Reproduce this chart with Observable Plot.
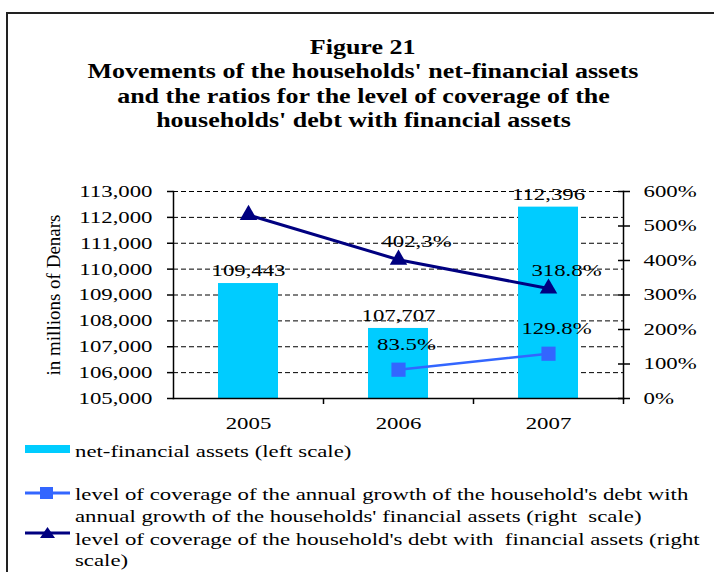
<!DOCTYPE html>
<html><head><meta charset="utf-8">
<script src="https://cdn.jsdelivr.net/npm/d3@7"></script>
<script src="https://cdn.jsdelivr.net/npm/@observablehq/plot@0.6"></script>
<style>
body{margin:0;background:#fff;}
#page{position:relative;width:714px;height:572px;overflow:hidden;background:#fff;font-family:"Liberation Serif","Times New Roman",serif;color:#000;}
#border{position:absolute;left:6px;top:12px;width:800px;height:700px;border:2px solid #222;}
#title{position:absolute;left:7px;width:712px;top:35px;text-align:center;font-weight:bold;font-size:20px;line-height:24.3px;}
#title div span{display:inline-block;transform:scaleX(1.3);transform-origin:center;white-space:nowrap;}
#chart{position:absolute;left:0;top:170px;}
#legend{position:absolute;left:0;top:430px;}
</style></head>
<body>
<div id="page">
  <div id="border"></div>
  <div id="title"></div>
  <div id="chart"></div>
  <div id="legend"></div>
</div>
<script>
// ---- data ----
const titleLines = [
  "Figure 21",
  "Movements of the households' net-financial assets",
  "and the ratios for the level of coverage of the",
  "households' debt with financial assets"
];
const years = ["2005", "2006", "2007"];
const netAssets = [109443, 107707, 112396];
const netAssetLabels = ["109,443", "107,707", "112,396"];
const debtCoverage = [532, 402.3, 318.8];            // % (right scale), triangles
const debtCoverageLabels = ["", "402,3%", "318.8%"];
const growthCoverage = [null, 83.5, 129.8];          // % (right scale), squares
const growthCoverageLabels = ["", "83.5%", "129.8%"];
const leftTicks = [105000, 106000, 107000, 108000, 109000, 110000, 111000, 112000, 113000];
const rightTicks = [0, 100, 200, 300, 400, 500, 600];
const leftDomain = [105000, 113000];
const rightDomain = [0, 600];
const yTitle = "in millions of Denars";
const legendLabels = [
  ["net-financial assets (left scale)"],
  ["level of coverage of the annual growth of the household's debt with", "annual growth of the households' financial assets (right  scale)"],
  ["level of coverage of the household's debt with  financial assets (right", "scale)"]
];

// ---- title ----
const titleEl = document.getElementById("title");
titleLines.forEach(s => {
  const div = document.createElement("div");
  const span = document.createElement("span");
  span.textContent = s;
  div.appendChild(span);
  titleEl.appendChild(div);
});

// ---- helpers ----
const toLeft = p => leftDomain[0] + (p - rightDomain[0]) / (rightDomain[1] - rightDomain[0]) * (leftDomain[1] - leftDomain[0]);
const fromLeft = v => rightDomain[0] + (v - leftDomain[0]) / (leftDomain[1] - leftDomain[0]) * (rightDomain[1] - rightDomain[0]);

const bars = years.map((y, i) => ({year: y, value: netAssets[i], label: netAssetLabels[i]}));
const tri = years.map((y, i) => ({year: y, v: toLeft(debtCoverage[i]), label: debtCoverageLabels[i]}));
const sq = years.map((y, i) => ({year: y, v: growthCoverage[i] == null ? null : toLeft(growthCoverage[i]), label: growthCoverageLabels[i]})).filter(d => d.v != null);

const navy = "#000080", blue = "#3366FF", cyan = "#00CCFF";

const plot = Plot.plot({
  width: 714, height: 264,
  marginTop: 21, marginBottom: 36, marginLeft: 173, marginRight: 91,
  style: {fontFamily: "'Liberation Serif', 'Times New Roman', serif", fontSize: "17px", color: "#000", background: "transparent", overflow: "visible"},
  x: {domain: years, paddingInner: 0.6, paddingOuter: 0.3, label: null},
  y: {domain: leftDomain, label: null},
  marks: [
    Plot.gridY(leftTicks.slice(1), {stroke: "#000", strokeOpacity: 1, strokeWidth: 1, strokeDasharray: "5,3"}),
    Plot.barY(bars, {x: "year", y1: leftDomain[0], y2: "value", fill: cyan}),
    Plot.frame({anchor: "left", stroke: "#000", strokeWidth: 1.5}),
    Plot.frame({anchor: "right", stroke: "#000", strokeWidth: 1.5}),
    Plot.frame({anchor: "bottom", stroke: "#000", strokeWidth: 1.5}),
    Plot.axisY(leftTicks, {anchor: "left", tickSize: 6, tickPadding: 15, strokeWidth: 1.5, tickFormat: d3.format(","), label: null}),
    Plot.axisY(rightTicks.map(toLeft), {anchor: "right", tickSize: 12, dx: -6, tickPadding: 14, strokeWidth: 1.5, tickFormat: v => Math.round(fromLeft(v)) + "%", label: null}),
    Plot.axisX({tickSize: 0, tickPadding: 18, label: null}),
    Plot.axisX({ticks: years, tickSize: 6, dx: 75, strokeWidth: 1.5, tickFormat: () => "", label: null}),
    Plot.text([yTitle], {frameAnchor: "left", textAnchor: "middle", rotate: -90, dx: -120, fontSize: 19}),
    Plot.line(tri, {x: "year", y: "v", stroke: navy, strokeWidth: 3}),
    Plot.dot(tri, {x: "year", y: "v", symbol: "triangle", r: 6.5, fill: navy, stroke: "none"}),
    Plot.line(sq, {x: "year", y: "v", stroke: blue, strokeWidth: 2.5}),
    Plot.dot(sq, {x: "year", y: "v", symbol: "square", r: 8, fill: blue, stroke: "none"}),
    Plot.text(bars, {x: "year", y: "value", text: "label", dy: -13, fill: "#000"}),
    Plot.text(tri.filter(d => d.label), {x: "year", y: "v", text: "label", dx: 18, dy: -18, fill: "#000"}),
    Plot.text(sq, {x: "year", y: "v", text: "label", dx: 8, dy: -25, fill: "#000"})
  ]
});
document.getElementById("chart").appendChild(plot);

// ---- legend ----
const lg = d3.select("#legend").append("svg").attr("width", 714).attr("height", 142)
  .style("font-family", "'Liberation Serif', 'Times New Roman', serif").style("font-size", "17px");
const swX0 = 25, swX1 = 70, txX = 75;
lg.append("rect").attr("x", swX0).attr("y", 15).attr("width", swX1 - swX0).attr("height", 8).attr("fill", cyan);
lg.append("line").attr("x1", swX0).attr("x2", swX1).attr("y1", 63).attr("y2", 63).attr("stroke", blue).attr("stroke-width", 3);
lg.append("rect").attr("x", 40).attr("y", 57).attr("width", 13).attr("height", 12).attr("fill", blue);
lg.append("line").attr("x1", swX0).attr("x2", swX1).attr("y1", 103).attr("y2", 103).attr("stroke", navy).attr("stroke-width", 3);
lg.append("path").attr("d", "M40,108L55,108L47.5,97Z").attr("fill", navy);
const lineYs = [[21], [64, 86], [109, 130]];
legendLabels.forEach((lines, i) => {
  lines.forEach((s, j) => {
    lg.append("text").attr("x", txX).attr("y", lineYs[i][j]).attr("dy", "0.34em").attr("fill", "#000")
      .style("white-space", "pre").text(s);
  });
});

// ---- stretch chart texts horizontally to match the reference's wide lettering ----
function stretch(root, k) {
  root.querySelectorAll("text").forEach(t => {
    if (t.textContent === yTitle) return;
    const len = t.getComputedTextLength();
    if (len > 0) {
      t.setAttribute("textLength", (len * k).toFixed(1));
      t.setAttribute("lengthAdjust", "spacingAndGlyphs");
    }
  });
}
stretch(plot, 1.34);
stretch(lg.node(), 1.34);
</script>
</body></html>
